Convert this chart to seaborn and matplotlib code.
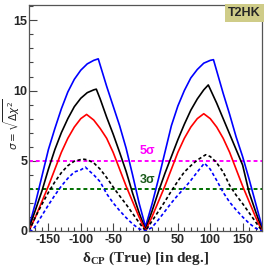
import matplotlib
matplotlib.use("Agg")
import matplotlib.pyplot as plt
import seaborn as sns

sns.set_style("ticks")
plt.rcParams["font.family"] = ["Liberation Sans Narrow", "Liberation Sans", "DejaVu Sans"]
plt.rcParams["axes.unicode_minus"] = False

# solid curves
blue_x = [-180, -170, -160, -150, -140, -130, -120, -110, -100, -90, -80, -73,
          -60, -50, -40, -30, -20, -10, 0,
          10, 20, 30, 40, 50, 60, 70, 80, 90, 100, 105,
          110, 120, 130, 140, 150, 160, 170, 180]
blue_y = [0.3, 2.0, 3.9, 5.8, 7.3, 8.7, 9.9, 10.8, 11.45, 11.9, 12.15, 12.26,
          10.3, 8.9, 7.5, 5.9, 4.0, 2.0, 0.3,
          1.9, 3.7, 5.6, 7.5, 8.9, 10.0, 10.9, 11.5, 11.95, 12.15, 12.2,
          11.4, 9.8, 8.3, 6.7, 5.3, 3.7, 2.0, 0.3]

black_x = [-180, -170, -160, -150, -140, -130, -120, -110, -100, -90, -80, -76,
           -70, -60, -50, -40, -30, -20, -10, 0,
           10, 20, 30, 40, 50, 60, 70, 80, 90, 97,
           110, 120, 130, 140, 150, 160, 170, 180]
black_y = [0.2, 1.5, 2.85, 4.4, 5.8, 7.0, 8.0, 8.85, 9.45, 9.85, 10.05, 10.1,
           9.4, 8.1, 6.9, 5.6, 4.25, 2.7, 1.3, 0.1,
           1.4, 2.8, 4.1, 5.3, 6.5, 7.6, 8.6, 9.4, 10.05, 10.4,
           9.1, 8.0, 6.9, 5.8, 4.7, 2.75, 1.4, 0.1]

red_x = [-180, -170, -160, -150, -140, -130, -120, -110, -100, -91,
         -80, -70, -60, -50, -40, -30, -20, -10, 0,
         10, 20, 30, 40, 50, 60, 70, 80, 90,
         100, 110, 120, 130, 140, 150, 160, 170, 180]
red_y = [0.0, 1.0, 2.1, 3.2, 4.4, 5.6, 6.6, 7.4, 8.0, 8.3,
         7.9, 7.3, 6.6, 5.6, 4.4, 3.2, 2.1, 1.0, 0.0,
         1.0, 2.1, 3.2, 4.4, 5.6, 6.6, 7.4, 8.0, 8.35,
         8.0, 7.4, 6.6, 5.6, 4.4, 3.2, 2.1, 1.0, 0.0]

# dashed curves
bdash_x = [-180, -170, -160, -150, -140, -130, -120, -110, -97,
           -90, -80, -70, -60, -48, -40, -30, -20, -10, 0,
           10, 20, 30, 40, 50, 60, 70, 80, 93, 100, 107, 110, 120,
           130, 140, 150, 160, 170, 180]
bdash_y = [0.0, 1.0, 1.9, 2.75, 3.5, 4.15, 4.65, 4.97, 5.12,
           5.07, 4.85, 4.4, 3.8, 3.0, 2.5, 1.9, 1.25, 0.6, 0.0,
           0.7, 1.4, 2.1, 2.85, 3.55, 4.2, 4.65, 5.05, 5.43, 5.3, 5.0, 4.85, 4.2,
           3.25, 2.55, 1.95, 1.3, 0.65, 0.0]

udash_x = [-180, -175, -170, -160, -150, -140, -130, -120, -110, -100, -93,
           -85, -80, -70, -60, -50, -40, -30, -20, -10, 0,
           10, 20, 30, 40, 50, 60, 70, 80, 91,
           100, 110, 120, 130, 140, 150, 160, 170, 180]
udash_y = [0.0, 0.05, 0.35, 1.1, 1.85, 2.55, 3.2, 3.75, 4.2, 4.35, 4.55,
           4.2, 4.0, 3.5, 2.65, 2.0, 1.45, 0.95, 0.5, 0.15, 0.0,
           0.25, 0.8, 1.4, 2.0, 2.55, 3.05, 3.6, 4.2, 4.83,
           4.4, 3.6, 2.75, 2.05, 1.5, 1.0, 0.55, 0.2, 0.0]

x_ticks = [-150, -100, -50, 0, 50, 100, 150]
y_ticks = [0, 5, 10, 15]

fig = plt.figure(figsize=(2.66, 2.73), dpi=100)
ax = fig.add_axes([0.109, 0.154, 0.876, 0.828])

ax.axhline(5, color="#ff00ff", lw=1.4, ls=(0, (2, 1.5)))
ax.axhline(3, color="#007000", lw=1.4, ls=(0, (2, 1.5)))

sns.lineplot(x=blue_x, y=blue_y, color="#0000ff", lw=1.2, sort=False, ax=ax)
sns.lineplot(x=black_x, y=black_y, color="black", lw=1.2, sort=False, ax=ax)
sns.lineplot(x=red_x, y=red_y, color="#ff0000", lw=1.2, sort=False, ax=ax)
sns.lineplot(x=bdash_x, y=bdash_y, color="black", lw=1.2, ls=(0, (2, 1.5)), sort=False, ax=ax)
sns.lineplot(x=udash_x, y=udash_y, color="#0000ff", lw=1.2, ls=(0, (2, 1.5)), sort=False, ax=ax)

ax.text(-9, 5.45, "5σ", color="#ff00ff", fontsize=9, fontweight="bold",
        family=["Liberation Sans", "DejaVu Sans"])
ax.text(-9, 3.4, "3σ", color="#1a5a1a", fontsize=9, fontweight="bold",
        family=["Liberation Sans", "DejaVu Sans"])

ax.text(0.995, 0.99, "T2HK", transform=ax.transAxes, ha="right", va="top",
        fontsize=9, fontweight="bold",
        bbox=dict(boxstyle="square,pad=0.25", fc="#cfcc88", ec="none"))

ax.set_xlim(-180, 180)
ax.set_ylim(0, 16.1)
ax.set_xticks(x_ticks)
ax.set_xticks(range(-180, 181, 10), minor=True)
ax.set_yticks(y_ticks)
ax.set_yticks(range(0, 17), minor=True)
ax.tick_params(which="both", direction="in", top=False, right=False,
               labelsize=9, pad=2, width=0.8, color="#444444")
ax.tick_params(axis="y", pad=1)
ax.tick_params(which="major", length=6)
ax.tick_params(which="minor", length=3)
for lab in ax.get_xticklabels() + ax.get_yticklabels():
    lab.set_fontweight("bold")
for s in ax.spines.values():
    s.set_color("#555555")
    s.set_linewidth(0.9)

ax.set_xlabel(r"δ$_{\mathregular{CP}}$ (True) [in deg.]", fontsize=11,
              family=["Liberation Serif", "DejaVu Serif"], fontweight="bold", labelpad=3)
ax.set_ylabel(r"$\sigma = \sqrt{\Delta\chi^{2}}$", fontsize=7.5, va="center")
ax.yaxis.set_label_coords(-0.074, 0.47)

fig.savefig("out.png", dpi=100)
